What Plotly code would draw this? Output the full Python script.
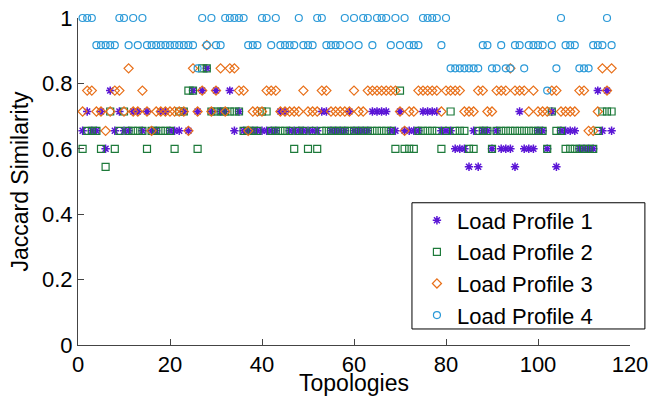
import plotly.graph_objects as go

topologies = list(range(1, 117))

lp1 = [0.655, 0.714, 0.655, 0.655, 0.714, 0.6, 0.778, 0.655, 0.714, 0.655,
       0.655, 0.714, 0.714, 0.655, 0.714, 0.655, 0.655, 0.714, 0.714, 0.655,
       0.655, 0.655, 0.714, 0.655, 0.778, 0.714, 0.778, 0.846, 0.714, 0.778,
       0.714, 0.714, 0.778, 0.655, 0.714, 0.655, 0.655, 0.655, 0.655, 0.655,
       0.655, 0.655, 0.655, 0.714, 0.714, 0.655, 0.655, 0.655, 0.655, 0.655,
       0.655, 0.655, 0.714, 0.714, 0.655, 0.655, 0.655, 0.655, 0.714, 0.655,
       0.655, 0.655, 0.655, 0.714, 0.714, 0.714, 0.714, 0.655, 0.655, 0.714,
       0.655, 0.655, 0.655, 0.655, 0.714, 0.714, 0.714, 0.714, 0.655, 0.655,
       0.655, 0.6, 0.6, 0.6, 0.545, 0.655, 0.545, 0.655, 0.655, 0.6,
       0.655, 0.6, 0.6, 0.6, 0.545, 0.714, 0.6, 0.6, 0.6, 0.655,
       0.655, 0.6, 0.714, 0.545, 0.655, 0.655, 0.655, 0.655, 0.6, 0.6,
       0.6, 0.6, 0.778, 0.655, 0.778, 0.655]

lp2 = [0.6, 0.655, 0.655, 0.655, 0.6, 0.545, 0.714, 0.6, 0.655, 0.714,
       0.655, 0.655, 0.655, 0.655, 0.6, 0.655, 0.655, 0.655, 0.655, 0.655,
       0.6, 0.714, 0.714, 0.778, 0.778, 0.6, 0.846, 0.846, 0.714, 0.714,
       0.714, 0.714, 0.714, 0.714, 0.714, 0.655, 0.655, 0.655, 0.655, 0.714,
       0.714, 0.655, 0.655, 0.655, 0.655, 0.655, 0.6, 0.655, 0.655, 0.6,
       0.655, 0.6, 0.655, 0.655, 0.655, 0.655, 0.655, 0.655, 0.655, 0.655,
       0.655, 0.655, 0.655, 0.655, 0.655, 0.655, 0.655, 0.655, 0.6, 0.778,
       0.6, 0.6, 0.6, 0.655, 0.655, 0.655, 0.655, 0.655, 0.6, 0.655,
       0.714, 0.655, 0.655, 0.655, 0.6, 0.6, 0.655, 0.655, 0.655, 0.6,
       0.655, 0.655, 0.655, 0.655, 0.655, 0.655, 0.655, 0.655, 0.655, 0.655,
       0.655, 0.6, 0.714, 0.655, 0.655, 0.6, 0.6, 0.6, 0.6, 0.6,
       0.6, 0.6, 0.655, 0.714, 0.714, 0.714]

lp3 = [0.714, 0.778, 0.778, 0.714, 0.714, 0.655, 0.714, 0.778, 0.778, 0.714,
       0.846, 0.714, 0.714, 0.778, 0.714, 0.655, 0.714, 0.714, 0.714, 0.714,
       0.714, 0.714, 0.714, 0.655, 0.846, 0.714, 0.778, 0.917, 0.714, 0.778,
       0.846, 0.714, 0.846, 0.846, 0.778, 0.778, 0.655, 0.714, 0.714, 0.714,
       0.778, 0.778, 0.778, 0.714, 0.714, 0.714, 0.714, 0.714, 0.778, 0.714,
       0.714, 0.714, 0.778, 0.778, 0.714, 0.714, 0.714, 0.714, 0.714, 0.778,
       0.714, 0.714, 0.778, 0.778, 0.778, 0.778, 0.778, 0.778, 0.778, 0.714,
       0.655, 0.714, 0.714, 0.778, 0.778, 0.778, 0.778, 0.778, 0.714, 0.778,
       0.778, 0.778, 0.778, 0.714, 0.714, 0.714, 0.778, 0.778, 0.714, 0.714,
       0.778, 0.778, 0.778, 0.846, 0.778, 0.778, 0.778, 0.714, 0.778, 0.714,
       0.714, 0.714, 0.778, 0.778, 0.714, 0.714, 0.714, 0.714, 0.778, 0.778,
       0.655, 0.655, 0.714, 0.846, 0.778, 0.846]

lp4 = [1, 1, 1, 0.917, 0.917, 0.917, 0.917, 0.917, 1, 1,
       0.917, 1, 0.917, 1, 0.917, 0.917, 0.917, 0.917, 0.917, 0.917,
       0.917, 0.917, 0.917, 0.917, 0.917, 0.846, 1, 0.917, 1, 0.917,
       0.917, 1, 1, 1, 1, 1, 0.917, 0.917, 0.917, 1,
       1, 0.917, 1, 0.917, 0.917, 0.917, 0.917, 1, 0.917, 0.917,
       0.917, 1, 1, 0.917, 0.917, 0.917, 0.917, 1, 0.917, 1,
       0.917, 1, 1, 0.917, 1, 1, 1, 0.917, 1, 0.917,
       1, 0.917, 0.917, 0.917, 1, 1, 1, 1, 0.917, 1,
       0.846, 0.846, 0.846, 0.846, 0.846, 0.846, 0.846, 0.917, 0.917, 0.846,
       0.846, 0.917, 0.846, 0.846, 0.917, 0.917, 0.846, 0.917, 0.917, 0.917,
       0.917, 0.778, 0.917, 0.846, 1, 0.917, 0.917, 0.917, 0.846, 0.846,
       0.846, 0.917, 0.917, 0.917, 1, 0.917]

names = ["Load Profile 1", "Load Profile 2", "Load Profile 3", "Load Profile 4"]
series = [lp1, lp2, lp3, lp4]
symbols = ["asterisk-open", "square-open", "diamond-open", "circle-open"]
colors = ["#5b16d6", "#1d7a3a", "#e8701a", "#2c9ad8"]
sizes = [7, 7, 7, 7]

x_ticks = [0, 20, 40, 60, 80, 100, 120]
y_ticks = [0, 0.2, 0.4, 0.6, 0.8, 1]

FONT = "Liberation Sans, Arial, sans-serif"

fig = go.Figure()
for name, vals, sym, col, sz in zip(names, series, symbols, colors, sizes):
    fig.add_trace(go.Scatter(
        x=topologies, y=vals, mode="markers", name=name,
        legendgroup=name, cliponaxis=False,
        marker=dict(symbol=sym, size=sz, color=col,
                    line=dict(width=1.5 if sym == "asterisk-open" else 1.2, color=col)),
    ))

fig.update_layout(
    width=652, height=396,
    margin=dict(l=78, r=22, t=18, b=51, autoexpand=False),
    paper_bgcolor="white", plot_bgcolor="white",
    font=dict(family=FONT, size=22, color="black"),
    showlegend=True,
    legend=dict(x=0.614, y=0.445, xanchor="left", yanchor="top",
                bgcolor="rgba(0,0,0,0)", borderwidth=0,
                font=dict(size=22), traceorder="grouped", tracegroupgap=0),
    shapes=[dict(type="rect", xref="paper", yref="paper",
                 x0=0.605, x1=1.027, y0=0.049, y1=0.435,
                 line=dict(color="black", width=1), fillcolor="rgba(0,0,0,0)")],
)
fig.update_xaxes(range=[0, 120], tickvals=x_ticks, ticks="inside", ticklen=6,
                 tickcolor="#444", showline=True, linecolor="#444", linewidth=1,
                 showgrid=False, zeroline=False, mirror=False, automargin=False,
                 tickfont=dict(size=22),
                 title=dict(text="Topologies", font=dict(size=23), standoff=9))
fig.update_yaxes(range=[0, 1], tickvals=y_ticks, ticktext=["0", "0.2", "0.4", "0.6", "0.8", "1"],
                 ticks="inside", ticklen=6,
                 tickcolor="#444", showline=True, linecolor="#444", linewidth=1,
                 showgrid=False, zeroline=False, mirror=False, automargin=False,
                 tickfont=dict(size=22),
                 title=dict(text="Jaccard Similarity", font=dict(size=23), standoff=6))

fig.write_html("out.html", config={"displayModeBar": False},
               post_script="document.body.style.margin='0px';")
